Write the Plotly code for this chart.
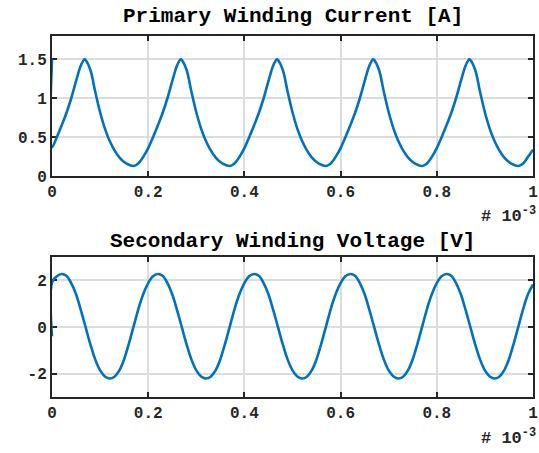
import plotly.graph_objects as go
from plotly.subplots import make_subplots

# Sample times in ms (axis shows seconds x 10^-3)
t_current = [
    0.00, 0.00, 0.01, 0.02, 0.03, 0.04, 0.05, 0.06, 0.0675, 0.07, 0.08, 0.09, 0.10,
    0.11, 0.12, 0.13, 0.14, 0.15, 0.16, 0.17, 0.18, 0.19,
    0.20, 0.21, 0.22, 0.23, 0.24, 0.25, 0.26, 0.2675, 0.27, 0.28, 0.29, 0.30,
    0.31, 0.32, 0.33, 0.34, 0.35, 0.36, 0.37, 0.38, 0.39,
    0.40, 0.41, 0.42, 0.43, 0.44, 0.45, 0.46, 0.4675, 0.47, 0.48, 0.49, 0.50,
    0.51, 0.52, 0.53, 0.54, 0.55, 0.56, 0.57, 0.58, 0.59,
    0.60, 0.61, 0.62, 0.63, 0.64, 0.65, 0.66, 0.6675, 0.67, 0.68, 0.69, 0.70,
    0.71, 0.72, 0.73, 0.74, 0.75, 0.76, 0.77, 0.78, 0.79,
    0.80, 0.81, 0.82, 0.83, 0.84, 0.85, 0.86, 0.8675, 0.87, 0.88, 0.89, 0.90,
    0.91, 0.92, 0.93, 0.94, 0.95, 0.96, 0.97, 0.98, 0.99,
    1.00,
]

# Primary winding current [A]
i_primary = [
    1.50, 0.37, 0.50, 0.65, 0.81, 1.00, 1.22, 1.42, 1.50, 1.49, 1.36, 1.08, 0.82,
    0.61, 0.45, 0.33, 0.24, 0.18, 0.145, 0.13, 0.165, 0.25,
    0.36, 0.50, 0.65, 0.81, 1.00, 1.22, 1.42, 1.50, 1.49, 1.36, 1.08, 0.82,
    0.61, 0.45, 0.33, 0.24, 0.18, 0.145, 0.13, 0.165, 0.25,
    0.36, 0.50, 0.65, 0.81, 1.00, 1.22, 1.42, 1.50, 1.49, 1.36, 1.08, 0.82,
    0.61, 0.45, 0.33, 0.24, 0.18, 0.145, 0.13, 0.165, 0.25,
    0.36, 0.50, 0.65, 0.81, 1.00, 1.22, 1.42, 1.50, 1.49, 1.36, 1.08, 0.82,
    0.61, 0.45, 0.33, 0.24, 0.18, 0.145, 0.13, 0.165, 0.25,
    0.36, 0.50, 0.65, 0.81, 1.00, 1.22, 1.42, 1.50, 1.49, 1.36, 1.08, 0.82,
    0.61, 0.45, 0.33, 0.24, 0.18, 0.145, 0.13, 0.165, 0.25,
    0.34,
]

t_voltage = [
    0.00, 0.00, 0.01, 0.02, 0.03, 0.04, 0.05, 0.06, 0.07, 0.08, 0.09, 0.10,
    0.11, 0.12, 0.13, 0.14, 0.15, 0.16, 0.17, 0.18, 0.19,
    0.20, 0.21, 0.22, 0.23, 0.24, 0.25, 0.26, 0.27, 0.28, 0.29, 0.30,
    0.31, 0.32, 0.33, 0.34, 0.35, 0.36, 0.37, 0.38, 0.39,
    0.40, 0.41, 0.42, 0.43, 0.44, 0.45, 0.46, 0.47, 0.48, 0.49, 0.50,
    0.51, 0.52, 0.53, 0.54, 0.55, 0.56, 0.57, 0.58, 0.59,
    0.60, 0.61, 0.62, 0.63, 0.64, 0.65, 0.66, 0.67, 0.68, 0.69, 0.70,
    0.71, 0.72, 0.73, 0.74, 0.75, 0.76, 0.77, 0.78, 0.79,
    0.80, 0.81, 0.82, 0.83, 0.84, 0.85, 0.86, 0.87, 0.88, 0.89, 0.90,
    0.91, 0.92, 0.93, 0.94, 0.95, 0.96, 0.97, 0.98, 0.99,
    1.00,
]

# Secondary winding voltage [V]
v_secondary = [
    -0.40, 1.90, 2.17, 2.27, 2.19, 1.88, 1.40, 0.72, -0.02, -0.76, -1.40, -1.86,
    -2.12, -2.21, -2.13, -1.86, -1.38, -0.70, 0.05, 0.80, 1.42,
    1.88, 2.17, 2.27, 2.19, 1.88, 1.40, 0.72, -0.02, -0.76, -1.40, -1.86,
    -2.12, -2.21, -2.13, -1.86, -1.38, -0.70, 0.05, 0.80, 1.42,
    1.88, 2.17, 2.27, 2.19, 1.88, 1.40, 0.72, -0.02, -0.76, -1.40, -1.86,
    -2.12, -2.21, -2.13, -1.86, -1.38, -0.70, 0.05, 0.80, 1.42,
    1.88, 2.17, 2.27, 2.19, 1.88, 1.40, 0.72, -0.02, -0.76, -1.40, -1.86,
    -2.12, -2.21, -2.13, -1.86, -1.38, -0.70, 0.05, 0.80, 1.42,
    1.88, 2.17, 2.27, 2.19, 1.88, 1.40, 0.72, -0.02, -0.76, -1.40, -1.86,
    -2.12, -2.21, -2.13, -1.86, -1.38, -0.70, 0.05, 0.80, 1.42,
    1.82,
]

x_ticks = [0, 0.2, 0.4, 0.6, 0.8, 1]
x_labels = ["0", "0.2", "0.4", "0.6", "0.8", "1"]
y1_ticks = [0, 0.5, 1, 1.5]
y1_labels = ["0", "0.5", "1", "1.5"]
y2_ticks = [-2, 0, 2]
y2_labels = ["-2", "0", "2"]

titles = ["Primary Winding Current [A]", "Secondary Winding Voltage [V]"]
exp_label = "# 10<sup>-3</sup>"

FONT = "Liberation Mono"
INK = "#262626"
BLUE = "#0072BD"
GRID = "#dcdcdc"

fig = make_subplots(rows=2, cols=1, vertical_spacing=0.0)

fig.add_trace(go.Scatter(x=t_current, y=i_primary, mode="lines",
                         line=dict(color=BLUE, width=2.6, shape="spline", smoothing=1.0),
                         showlegend=False), row=1, col=1)
fig.add_trace(go.Scatter(x=t_voltage, y=v_secondary, mode="lines",
                         line=dict(color=BLUE, width=2.6, shape="spline", smoothing=1.0),
                         showlegend=False), row=2, col=1)

axis_common = dict(
    showline=True, linewidth=2, linecolor=INK, mirror="ticks",
    ticks="inside", ticklen=5, tickwidth=2, tickcolor=INK,
    showgrid=True, gridcolor=GRID, gridwidth=1.6,
    zeroline=False, layer="below traces", automargin=False,
    tickfont=dict(family=FONT, size=16, color=INK, weight="bold"),
)

fig.update_xaxes(**axis_common, range=[0, 1], tickvals=x_ticks, ticktext=x_labels)
fig.update_layout(
    xaxis=dict(anchor="y", domain=[0, 1]),
    xaxis2=dict(anchor="y2", domain=[0, 1]),
    yaxis=dict(domain=[0.612, 1.0]),
    yaxis2=dict(domain=[0.0, 0.388]),
)
fig.update_yaxes(**axis_common)
fig.update_yaxes(range=[0, 1.8], tickvals=y1_ticks, ticktext=y1_labels, row=1, col=1)
fig.update_yaxes(range=[-3, 3], tickvals=y2_ticks, ticktext=y2_labels, row=2, col=1)

title_font = dict(family=FONT, size=21, color="#000000", weight="bold")
exp_font = dict(family=FONT, size=17, color=INK, weight="bold")

annotations = [
    dict(text=titles[0], x=0.5, y=1.053, xref="paper", yref="paper",
         xanchor="center", yanchor="middle", showarrow=False, font=title_font),
    dict(text=titles[1], x=0.5, y=0.432, xref="paper", yref="paper",
         xanchor="center", yanchor="middle", showarrow=False, font=title_font),
    dict(text=exp_label, x=1.01, y=0.504, xref="paper", yref="paper",
         xanchor="right", yanchor="middle", showarrow=False, font=exp_font),
    dict(text=exp_label, x=1.01, y=-0.111, xref="paper", yref="paper",
         xanchor="right", yanchor="middle", showarrow=False, font=exp_font),
]

fig.update_layout(
    width=539, height=453,
    margin=dict(l=52, r=6, t=36, b=56, autoexpand=False),
    paper_bgcolor="white", plot_bgcolor="white",
    annotations=annotations,
)

fig.write_html("out.html")
